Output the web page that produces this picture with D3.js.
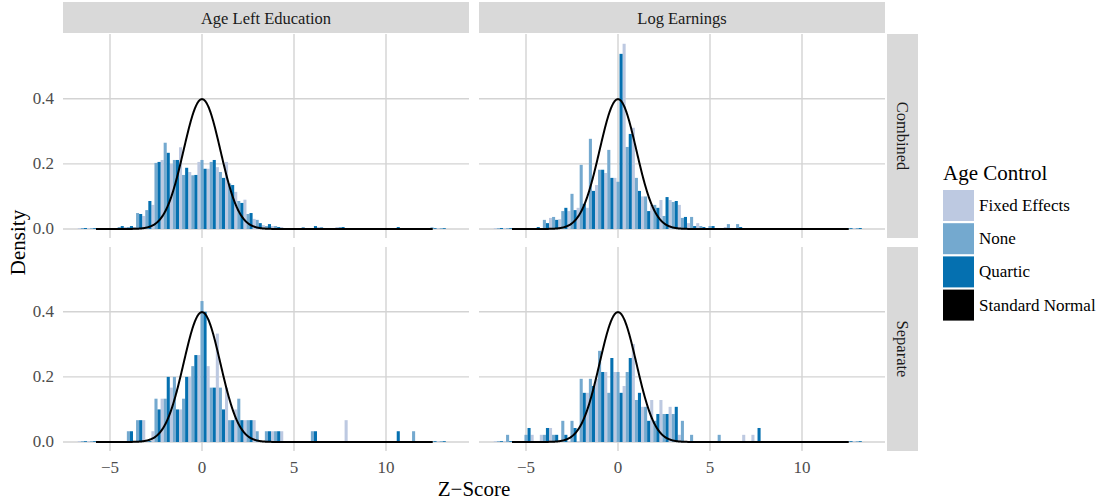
<!DOCTYPE html>
<html>
<head>
<meta charset="utf-8">
<script src="https://cdn.jsdelivr.net/npm/d3@7"></script>
<style>
  body { margin: 0; background: #fff; }
  svg { display: block; }
  text { font-family: "Liberation Serif", "Times New Roman", serif; }
</style>
</head>
<body>
<svg id="chart" width="1101" height="501"></svg>
<script>
// Histogram bins (width 0.5, centred on multiples of 0.5)
const binCenters = [-6.5, -6, -5.5, -5, -4.5, -4, -3.5, -3, -2.5, -2,
                    -1.5, -1, -0.5, 0, 0.5, 1, 1.5, 2, 2.5, 3,
                    3.5, 4, 4.5, 5, 5.5, 6, 6.5, 7, 7.5, 8,
                    8.5, 9, 9.5, 10, 10.5, 11, 11.5, 12, 12.5, 13];
const binWidth = 0.5;

const ageControls = ["Fixed Effects", "None", "Quartic"];
const outcomes = ["Age Left Education", "Log Earnings"];
const samples = ["Combined", "Separate"];
const xTickValues = [-5, 0, 5, 10];
const yTickValues = [0, 0.2, 0.4];

// Density per bin — Age Left Education, Combined
const ageCombinedFixed   = [0.002,0.002,0,0,0.003,0.006,0.006,0.040,0.074,0.212, 0.200,0.251,0.175,0.206,0.185,0.190,0.206,0.114,0.090,0.031, 0.012,0.009,0.006,0.003,0,0,0.006,0.003,0.006,0, 0,0,0,0.003,0,0,0,0,0,0.002];
const ageCombinedNone    = [0.003,0,0,0,0.006,0.006,0.049,0.058,0.203,0.265, 0.212,0.166,0.165,0.212,0.206,0.175,0.140,0.086,0.046,0.028, 0.009,0.009,0.003,0,0.006,0.003,0.006,0,0.006,0, 0,0,0,0,0,0,0,0,0.005,0];
const ageCombinedQuartic = [0.003,0.002,0,0,0.009,0.009,0.046,0.086,0.206,0.234, 0.212,0.188,0.166,0.185,0.212,0.157,0.135,0.080,0.049,0.018, 0.015,0.006,0,0,0,0.009,0,0,0.006,0, 0,0,0,0,0.006,0,0,0,0,0.002];

// Log Earnings, Combined
const earnCombinedFixed   = [0,0.002,0,0,0,0.003,0.034,0.030,0.055,0.065, 0.065,0.135,0.172,0.157,0.569,0.311,0.100,0.074,0.089,0.089, 0.074,0.018,0.018,0,0,0.006,0,0,0,0, 0,0,0,0,0,0,0,0,0,0.002];
const earnCombinedNone    = [0,0,0,0,0.003,0.028,0.037,0.055,0.108,0.197, 0.277,0.182,0.243,0.145,0.252,0.157,0.100,0.074,0.040,0.083, 0.034,0.037,0.009,0.009,0,0.015,0.015,0,0,0, 0,0,0,0,0,0,0,0,0,0.003];
const earnCombinedQuartic = [0.003,0,0,0,0.006,0.018,0.028,0.065,0.058,0.077, 0.117,0.182,0.157,0.538,0.292,0.117,0.055,0.065,0.098,0.086, 0.037,0.009,0.006,0.009,0,0,0.006,0,0,0, 0,0,0,0,0,0,0,0,0,0.003];

// Age Left Education, Separate
const ageSeparateFixed   = [0,0,0,0,0,0,0,0.067,0.033,0.133, 0.167,0.100,0.200,0.267,0.233,0.333,0.167,0.100,0.067,0.067, 0,0.033,0.033,0,0,0,0,0,0,0.067, 0,0,0,0,0,0,0,0,0,0];
const ageSeparateNone    = [0,0,0,0,0,0.033,0.067,0,0.133,0.133, 0.200,0.133,0.233,0.433,0.167,0.167,0.067,0.133,0.067,0.033, 0.033,0.033,0,0,0,0.033,0,0,0,0, 0,0,0,0,0,0,0.033,0,0,0];
const ageSeparateQuartic = [0,0,0,0,0,0.033,0.067,0,0.100,0.200, 0.100,0.200,0.267,0.400,0.167,0.100,0.067,0.067,0.067,0, 0.033,0.033,0,0,0,0.033,0,0,0,0, 0,0,0,0,0.033,0,0,0,0,0];

// Log Earnings, Separate
const earnSeparateFixed   = [0,0,0,0,0.022,0.022,0.043,0,0,0, 0.151,0.194,0.215,0.215,0.172,0.301,0.108,0.129,0.129,0.108, 0.022,0,0,0,0,0,0,0.022,0.022,0, 0,0,0,0,0,0,0,0,0,0];
const earnSeparateNone    = [0,0.022,0,0.022,0,0.022,0.022,0.065,0.065,0.194, 0.194,0.280,0.151,0.215,0.215,0.129,0.108,0.065,0.086,0.086, 0.065,0.022,0,0,0.022,0,0,0,0,0, 0,0,0,0,0,0,0,0,0,0];
const earnSeparateQuartic = [0,0,0,0.043,0,0.043,0.022,0.022,0.043,0.151, 0.172,0.215,0.258,0.151,0.258,0.151,0.065,0.086,0.086,0.108, 0,0,0,0,0,0,0,0,0.043,0, 0,0,0,0,0,0,0,0,0,0];

// Range over which the standard normal reference curve is drawn
const normalRange = [-5.76, 12.55];

const colours = { "Fixed Effects": "#BDC9E1", "None": "#74A9CF", "Quartic": "#0570B0", "Standard Normal": "#000000" };

const panelData = [
  { row: 0, col: 0, series: [ageCombinedFixed, ageCombinedNone, ageCombinedQuartic] },
  { row: 0, col: 1, series: [earnCombinedFixed, earnCombinedNone, earnCombinedQuartic] },
  { row: 1, col: 0, series: [ageSeparateFixed, ageSeparateNone, ageSeparateQuartic] },
  { row: 1, col: 1, series: [earnSeparateFixed, earnSeparateNone, earnSeparateQuartic] }
];

// Layout
const panelW = 406, panelH = 204;
const colX = [63, 479];
const rowY = [34, 247];
const gridColour = "#d3d3d3";

const svg = d3.select("#chart");

const x = d3.scaleLinear().domain([-7.554, 14.511]).range([0, panelW]);
const y = d3.scaleLinear().domain([-0.0277, 0.599]).range([panelH, 0]);

function normalDensity(z) { return Math.exp(-z * z / 2) / Math.sqrt(2 * Math.PI); }
const curveX = d3.range(normalRange[0], normalRange[1] + 1e-9, 0.02);
const curvePoints = curveX.map(z => [z, normalDensity(z)]);
const line = d3.line().x(d => x(d[0])).y(d => y(d[1]));

panelData.forEach(p => {
  const g = svg.append("g").attr("transform", `translate(${colX[p.col]},${rowY[p.row]})`);

  // grid
  g.selectAll("line.gx").data(xTickValues).join("line")
    .attr("x1", d => x(d)).attr("x2", d => x(d))
    .attr("y1", 0).attr("y2", panelH)
    .attr("stroke", gridColour).attr("stroke-width", 1.4);
  g.selectAll("line.gy").data(yTickValues).join("line")
    .attr("class", "gy")
    .attr("x1", 0).attr("x2", panelW)
    .attr("y1", d => y(d)).attr("y2", d => y(d))
    .attr("stroke", gridColour).attr("stroke-width", 1.4);

  // dodged histogram bars
  const subW = binWidth / 3;
  p.series.forEach((vals, si) => {
    const name = ageControls[si];
    g.append("g").selectAll("rect").data(vals.map((v, i) => ({ c: binCenters[i], v })))
      .join("rect")
      .attr("x", d => x(d.c - binWidth / 2 + si * subW))
      .attr("width", d => x(d.c - binWidth / 2 + (si + 1) * subW) - x(d.c - binWidth / 2 + si * subW))
      .attr("y", d => Math.min(y(d.v), y(0) - 0.8))
      .attr("height", d => Math.max(y(0) - y(d.v), 0.8))
      .attr("fill", colours[name]);
  });

  // standard normal curve
  g.append("path").datum(curvePoints)
    .attr("d", line)
    .attr("fill", "none")
    .attr("stroke", "#000")
    .attr("stroke-width", 2)
    .attr("stroke-linejoin", "round");
});

// top strips
outcomes.forEach((name, c) => {
  svg.append("rect").attr("x", colX[c]).attr("y", 2).attr("width", panelW).attr("height", 31).attr("fill", "#d9d9d9");
  svg.append("text").attr("x", colX[c] + panelW / 2).attr("y", 23.5)
    .attr("text-anchor", "middle").attr("font-size", 16.5).attr("fill", "#1a1a1a").text(name);
});

// right strips
samples.forEach((name, r) => {
  const sx = 887, sw = 31;
  svg.append("rect").attr("x", sx).attr("y", rowY[r]).attr("width", sw).attr("height", panelH).attr("fill", "#d9d9d9");
  const cx = sx + sw / 2, cy = rowY[r] + panelH / 2;
  svg.append("text").attr("transform", `translate(${cx - 5.5},${cy}) rotate(90)`)
    .attr("text-anchor", "middle").attr("font-size", 16.5).attr("fill", "#1a1a1a").text(name);
});

// y tick labels
rowY.forEach(ry => {
  yTickValues.forEach(t => {
    svg.append("text").attr("x", 54).attr("y", ry + y(t) + 5.5)
      .attr("text-anchor", "end").attr("font-size", 17).attr("fill", "#4d4d4d")
      .text(d3.format(".1f")(t));
  });
});

// x tick labels
colX.forEach(cx => {
  xTickValues.forEach(t => {
    svg.append("text").attr("x", cx + x(t)).attr("y", 473)
      .attr("text-anchor", "middle").attr("font-size", 17).attr("fill", "#4d4d4d")
      .text(t < 0 ? "\u2212" + Math.abs(t) : String(t));
  });
});

// axis titles
svg.append("text").attr("x", (colX[0] + colX[1] + panelW) / 2).attr("y", 496)
  .attr("text-anchor", "middle").attr("font-size", 21).attr("fill", "#000").text("Z\u2212Score");
svg.append("text").attr("transform", `translate(25,${(rowY[0] + rowY[1] + panelH) / 2}) rotate(-90)`)
  .attr("text-anchor", "middle").attr("font-size", 21).attr("fill", "#000").text("Density");

// legend
const legendItems = ageControls.concat(["Standard Normal"]);
const lg = svg.append("g").attr("transform", "translate(943,0)");
lg.append("text").attr("x", 0).attr("y", 180).attr("font-size", 21).attr("fill", "#000").text("Age Control");
legendItems.forEach((name, i) => {
  const ky = 190 + i * 33.2;
  lg.append("rect").attr("x", 0).attr("y", ky).attr("width", 31).attr("height", 31).attr("fill", colours[name]);
  lg.append("text").attr("x", 36).attr("y", ky + 21).attr("font-size", 17).attr("fill", "#000").text(name);
});
</script>
</body>
</html>
